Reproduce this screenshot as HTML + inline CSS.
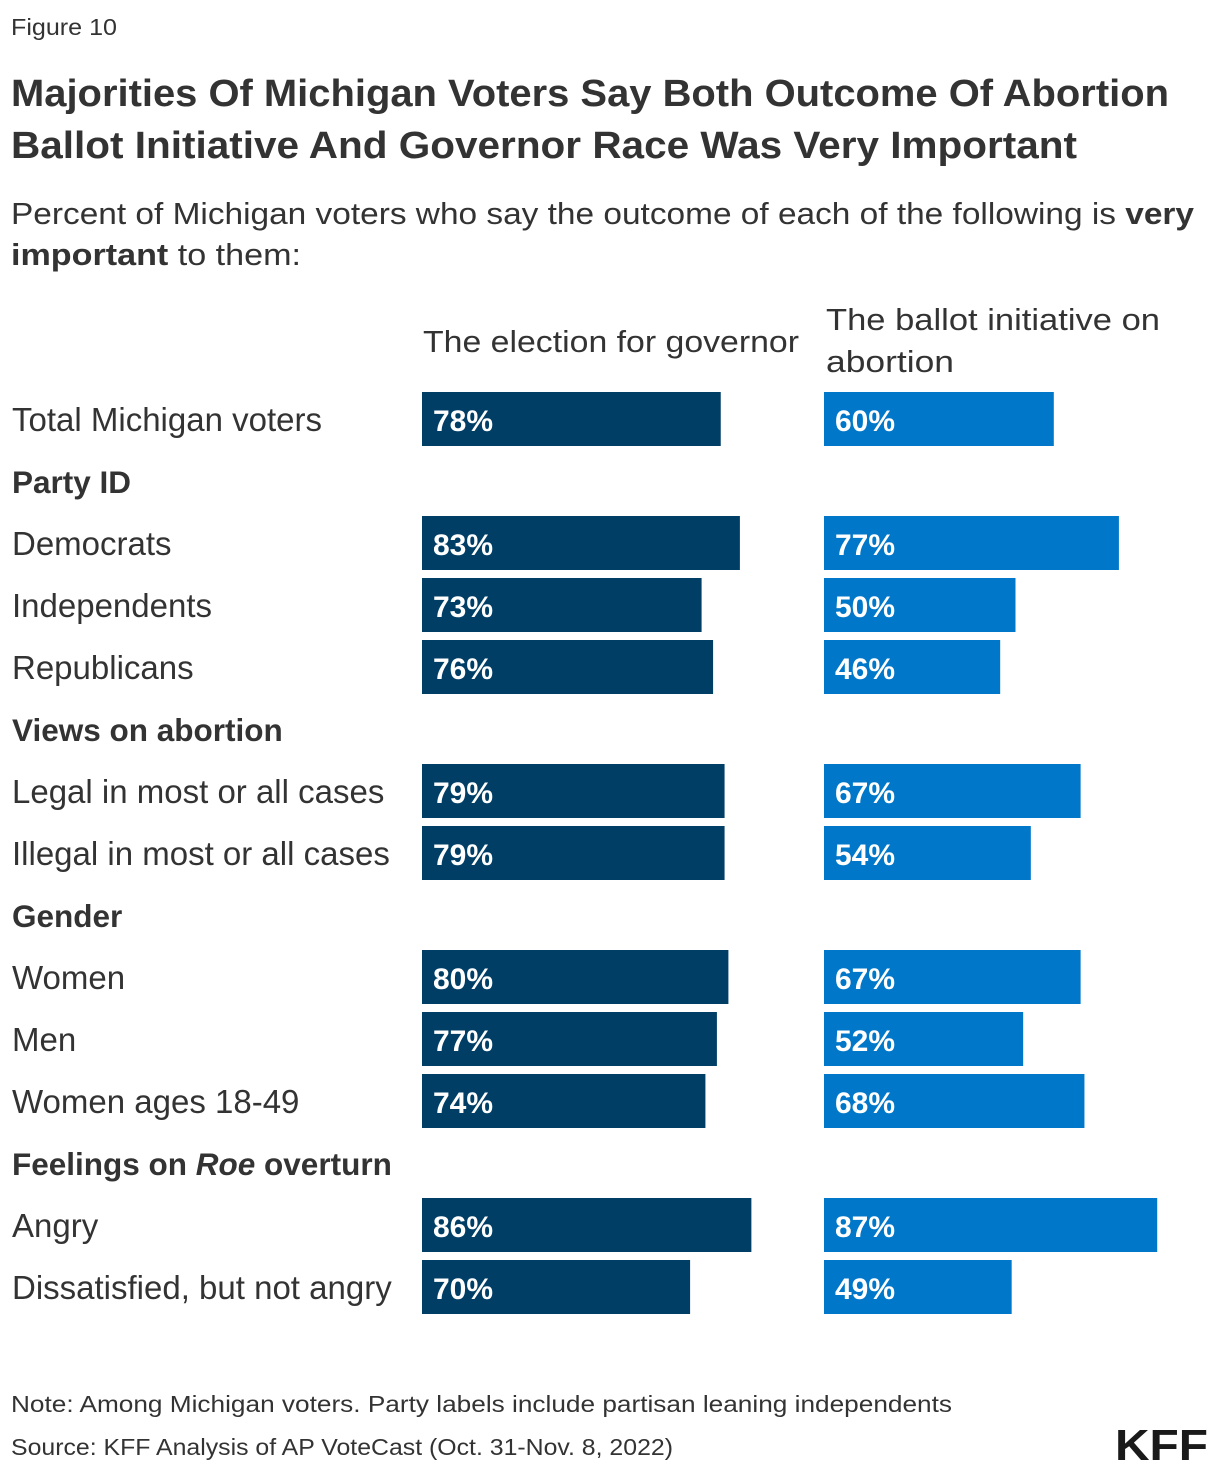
<!DOCTYPE html>
<html><head><meta charset="utf-8"><style>
html,body{margin:0;padding:0;background:#fff;}
svg{display:block;font-family:"Liberation Sans",sans-serif;}
</style></head><body>
<svg id="chart" width="1220" height="1474" viewBox="0 0 1220 1474" xmlns="http://www.w3.org/2000/svg">
<text x="11" y="35" font-size="23" fill="#333" textLength="106" lengthAdjust="spacingAndGlyphs">Figure 10</text>
<text x="11" y="106" font-size="38" font-weight="bold" fill="#333" textLength="1158" lengthAdjust="spacingAndGlyphs">Majorities Of Michigan Voters Say Both Outcome Of Abortion</text>
<text x="11" y="158" font-size="38" font-weight="bold" fill="#333" textLength="1066" lengthAdjust="spacingAndGlyphs">Ballot Initiative And Governor Race Was Very Important</text>
<text x="11" y="224" font-size="31" fill="#333" textLength="1183" lengthAdjust="spacingAndGlyphs">Percent of Michigan voters who say the outcome of each of the following is <tspan font-weight="bold">very</tspan></text>
<text x="11" y="265" font-size="31" fill="#333" textLength="290" lengthAdjust="spacingAndGlyphs"><tspan font-weight="bold">important</tspan> to them:</text>
<text x="423" y="352" font-size="31" fill="#333" textLength="376" lengthAdjust="spacingAndGlyphs">The election for governor</text>
<text x="826" y="330" font-size="31" fill="#333" textLength="334" lengthAdjust="spacingAndGlyphs">The ballot initiative on</text>
<text x="826" y="372" font-size="31" fill="#333" textLength="128" lengthAdjust="spacingAndGlyphs">abortion</text>
<g id="rows"></g>
<text x="11" y="1412" font-size="23" fill="#333" textLength="941" lengthAdjust="spacingAndGlyphs">Note: Among Michigan voters. Party labels include partisan leaning independents</text>
<text x="11" y="1455" font-size="23" fill="#333" textLength="662" lengthAdjust="spacingAndGlyphs">Source: KFF Analysis of AP VoteCast (Oct. 31-Nov. 8, 2022)</text>
<text x="1115" y="1460" font-size="44" font-weight="bold" fill="#1a1a1a" textLength="93" lengthAdjust="spacingAndGlyphs">KFF</text>
</svg>
<script>
const rowLabels = ["Total Michigan voters","Party ID","Democrats","Independents","Republicans","Views on abortion","Legal in most or all cases","Illegal in most or all cases","Gender","Women","Men","Women ages 18-49","Feelings on Roe overturn","Angry","Dissatisfied, but not angry"];
const isHeader = [false,true,false,false,false,true,false,false,true,false,false,false,true,false,false];
const governorValues = [78,null,83,73,76,null,79,79,null,80,77,74,null,86,70];
const ballotValues = [60,null,77,50,46,null,67,54,null,67,52,68,null,87,49];

const NS = "http://www.w3.org/2000/svg";
const g = document.getElementById("rows");
const scale = 3.83;
const xGov = v => 422 + v * scale;
const xBal = v => 824 + v * scale;
const rowY = i => 420 + i * 62;

function mk(tag, attrs){const e=document.createElementNS(NS,tag);for(const k in attrs)e.setAttribute(k,attrs[k]);return e;}

rowLabels.forEach((lab,i)=>{
  const cy = rowY(i);
  const t = mk("text",{x:12,y:cy+11,"font-size":isHeader[i]?31.5:33,fill:"#333","font-weight":isHeader[i]?"bold":"normal"});
  
  
  if(lab==="Feelings on Roe overturn"){
    t.innerHTML='Feelings on <tspan font-style="italic">Roe</tspan> overturn';
  } else t.textContent = lab;
  g.appendChild(t);
  [[governorValues,xGov,422,"#003e66","bar-governor"],[ballotValues,xBal,824,"#0077c8","bar-ballot"]].forEach(([arr,fx,x0,col,name])=>{
    const v = arr[i];
    if(v==null) return;
    const r = mk("rect",{x:x0,y:cy-28,width:fx(v)-x0,height:54,fill:col});
    
    
    g.appendChild(r);
    const vt = mk("text",{x:x0+11,y:cy+11,"font-size":30,"font-weight":"bold",fill:"#fff"});
    
    
    vt.textContent = v+"%";
    g.appendChild(vt);
  });
});
</script>
</body></html>
